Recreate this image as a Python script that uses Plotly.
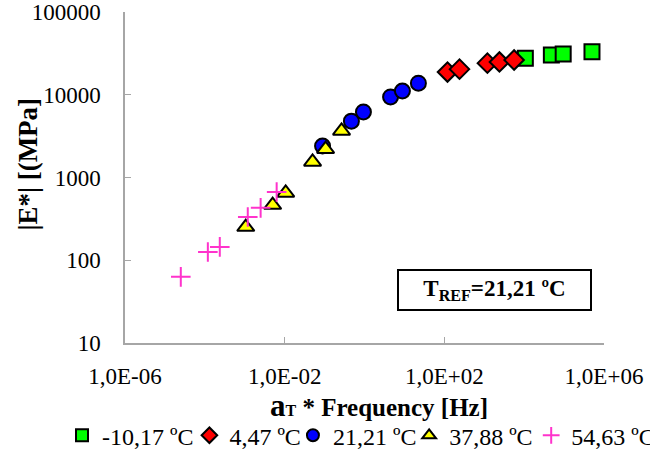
import plotly.graph_objects as go

# Data (reduced frequency aT*f [Hz], |E*| [MPa])
x_m1017 = [1.07e4, 4.8e4, 9.5e4, 5.0e5]
y_m1017 = [27700, 30200, 31000, 33000]

x_447 = [120, 240, 1200, 2400, 5600]
y_447 = [18800, 20400, 24100, 24900, 26300]

x_2121 = [0.089, 0.47, 0.94, 4.5, 8.9, 22.4]
y_2121 = [2400, 4800, 6200, 9400, 11100, 13800]

x_3788 = [0.00106, 0.005, 0.0106, 0.05, 0.106, 0.266]
y_3788 = [252, 465, 650, 1540, 2200, 3650]

x_5463 = [2.5e-5, 1.19e-4, 2.37e-4, 1.19e-3, 2.5e-3, 6.3e-3]
y_5463 = [63, 126, 145, 333, 430, 668]

series_names = ["-10,17 ºC", "4,47 ºC", "21,21 ºC", "37,88 ºC", "54,63 ºC"]

x_tickvals = [1e-6, 1e-2, 1e2, 1e6]
x_ticktext = ["1,0E-06", "1,0E-02", "1,0E+02", "1,0E+06"]
y_tickvals = [10, 100, 1000, 10000, 100000]
y_ticktext = ["10", "100", "1000", "10000", "100000"]

FONT = "Liberation Serif, Times New Roman, serif"
line = dict(color="black", width=2)

fig = go.Figure()
fig.add_trace(go.Scatter(x=x_m1017, y=y_m1017, mode="markers", name=series_names[0], legend="legend",
                         marker=dict(symbol="square", size=15, color="#00FF00", line=line)))
fig.add_trace(go.Scatter(x=x_447, y=y_447, mode="markers", name=series_names[1], legend="legend2",
                         marker=dict(symbol="diamond", size=15, color="#FF0000", line=line)))
fig.add_trace(go.Scatter(x=x_2121, y=y_2121, mode="markers", name=series_names[2], legend="legend3",
                         marker=dict(symbol="circle", size=15, color="#0000FF", line=line)))
fig.add_trace(go.Scatter(x=x_3788, y=y_3788, mode="markers", name=series_names[3], legend="legend4",
                         marker=dict(symbol="triangle-up", size=15, color="#FFFF00", line=line)))
fig.add_trace(go.Scatter(x=x_5463, y=y_5463, mode="markers", name=series_names[4], legend="legend5",
                         marker=dict(symbol="cross-thin", size=14, color="#FF33CC",
                                     line=dict(color="#FF33CC", width=2))))

axis_common = dict(showgrid=False, zeroline=False, showline=True, linecolor="#A6A6A6",
                   linewidth=1.5, ticks="inside", ticklen=6, tickcolor="#A6A6A6",
                   tickfont=dict(family=FONT, size=23, color="black"))

def leg(xpos):
    return dict(orientation="h", x=xpos, xanchor="left", y=-0.28, yanchor="middle",
                font=dict(family=FONT, size=24, color="black"), itemsizing="constant",
                bgcolor="rgba(0,0,0,0)", borderwidth=0)

fig.update_layout(
    width=650, height=450,
    margin=dict(l=125, r=46, t=12, b=107, autoexpand=False),
    paper_bgcolor="white", plot_bgcolor="white",
    font=dict(family=FONT, color="black"),
    xaxis=dict(type="log", range=[-6, 6], tickvals=x_tickvals, ticktext=x_ticktext,
               ticklabelstandoff=12, **axis_common),
    yaxis=dict(type="log", range=[1, 5], tickvals=y_tickvals, ticktext=y_ticktext,
               ticklabelstandoff=18, **axis_common),
    legend=leg(-0.1315),
    legend2=leg(0.1345),
    legend3=leg(0.3506),
    legend4=leg(0.5932),
    legend5=leg(0.848),
    showlegend=True,
)

# y-axis title
fig.add_annotation(xref="paper", yref="paper", x=-0.202, y=0.54, xanchor="center", yanchor="middle",
                   text="<b>|E*| [(MPa]</b>", textangle=-90, showarrow=False,
                   font=dict(family=FONT, size=27, color="black"))

# x-axis title (placed as in the reference, slightly right of centre)
fig.add_annotation(xref="paper", yref="paper", x=0.53, y=-0.19, xanchor="center", yanchor="middle",
                   text="<b><span style='font-size:31px'>a</span><span style='font-size:16px'>T</span>"
                        " * Frequency [Hz]</b>",
                   showarrow=False, font=dict(family=FONT, size=25, color="black"))

fig.add_annotation(xref="paper", yref="paper", x=0.771, y=0.16, xanchor="center", yanchor="middle",
                   text="<b>T<sub>REF</sub>=21,21 ºC</b>", showarrow=False,
                   font=dict(family=FONT, size=23, color="black"),
                   bordercolor="black", borderwidth=2, borderpad=0, width=191, height=38,
                   bgcolor="white")

fig.write_html("out.html")
